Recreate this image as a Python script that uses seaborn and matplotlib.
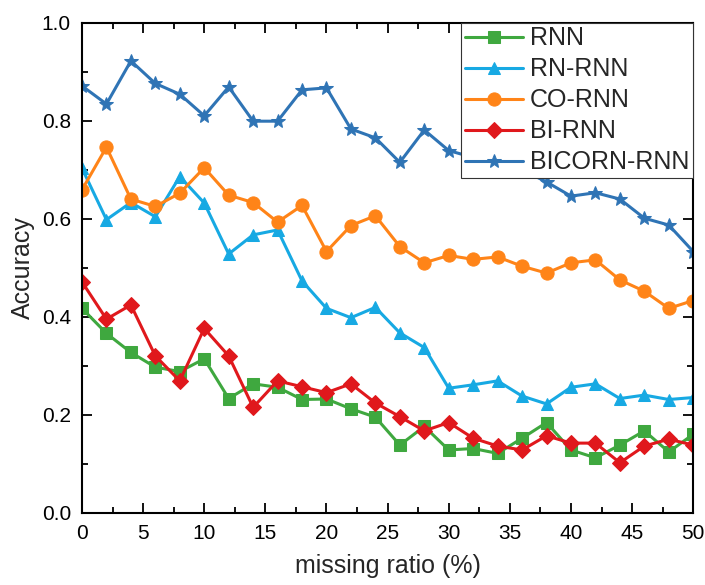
import numpy as np
import pandas as pd
import matplotlib
matplotlib.use("Agg")
import matplotlib.pyplot as plt
import seaborn as sns
from matplotlib.ticker import MultipleLocator

missing_ratio = [0, 2, 4, 6, 8, 10, 12, 14, 16, 18, 20, 22, 24, 26, 28, 30, 32, 34, 36, 38, 40, 42, 44, 46, 48, 50]

rnn = [0.417, 0.366, 0.327, 0.297, 0.288, 0.314, 0.233, 0.263, 0.256, 0.231, 0.232, 0.212, 0.195,
       0.138, 0.176, 0.128, 0.131, 0.121, 0.152, 0.184, 0.128, 0.112, 0.138, 0.167, 0.124, 0.160]
rn_rnn = [0.703, 0.598, 0.633, 0.604, 0.686, 0.632, 0.528, 0.567, 0.577, 0.473, 0.417, 0.398, 0.419,
          0.367, 0.337, 0.254, 0.261, 0.269, 0.238, 0.222, 0.256, 0.263, 0.233, 0.240, 0.231, 0.235]
co_rnn = [0.659, 0.746, 0.640, 0.625, 0.652, 0.704, 0.648, 0.633, 0.593, 0.627, 0.533, 0.586, 0.606,
          0.543, 0.510, 0.525, 0.517, 0.522, 0.503, 0.489, 0.510, 0.516, 0.475, 0.452, 0.417, 0.433]
bi_rnn = [0.471, 0.395, 0.424, 0.320, 0.269, 0.376, 0.320, 0.215, 0.269, 0.257, 0.245, 0.263, 0.224,
          0.196, 0.167, 0.184, 0.152, 0.136, 0.128, 0.157, 0.142, 0.142, 0.102, 0.136, 0.150, 0.138]
bicorn_rnn = [0.871, 0.834, 0.922, 0.876, 0.854, 0.810, 0.869, 0.799, 0.799, 0.863, 0.867, 0.783, 0.765,
              0.715, 0.781, 0.739, 0.725, 0.712, 0.700, 0.675, 0.646, 0.653, 0.640, 0.601, 0.587, 0.533]

series_names = ["RNN", "RN-RNN", "CO-RNN", "BI-RNN", "BICORN-RNN"]
series_values = [rnn, rn_rnn, co_rnn, bi_rnn, bicorn_rnn]

df = pd.DataFrame({
    "missing ratio": np.tile(missing_ratio, len(series_names)),
    "Accuracy": np.concatenate(series_values),
    "model": np.repeat(series_names, len(missing_ratio)),
})

sns.set_theme(style="ticks")
plt.rcParams["font.family"] = ["Liberation Sans", "DejaVu Sans"]

palette = {"RNN": "#3fa83f", "RN-RNN": "#17a9e3", "CO-RNN": "#ff8418",
           "BI-RNN": "#e0181c", "BICORN-RNN": "#2f74b5"}
markers = {"RNN": "s", "RN-RNN": "^", "CO-RNN": "o", "BI-RNN": "D", "BICORN-RNN": "*"}
msizes = {"RNN": 8, "RN-RNN": 9, "CO-RNN": 9.5, "BI-RNN": 8, "BICORN-RNN": 10.5}

fig = plt.figure(figsize=(7.05, 5.85), dpi=100)
ax = fig.add_axes([0.1163, 0.1236, 0.867, 0.8376])

handles = []
for name in series_names:
    sub = df[df["model"] == name]
    sns.lineplot(data=sub, x="missing ratio", y="Accuracy", ax=ax, color=palette[name],
                 marker=markers[name], markersize=msizes[name], markeredgecolor=palette[name],
                 linewidth=2.2, label=name, legend=False)
    handles.append(ax.lines[-1])

ax.set_xlim(0, 50)
ax.set_ylim(0.0, 1.0)
ax.xaxis.set_major_locator(MultipleLocator(5))
ax.xaxis.set_minor_locator(MultipleLocator(2.5))
ax.yaxis.set_major_locator(MultipleLocator(0.2))
ax.yaxis.set_minor_locator(MultipleLocator(0.1))
ax.set_yticks([0.0, 0.2, 0.4, 0.6, 0.8, 1.0])
ax.set_yticklabels(["0.0", "0.2", "0.4", "0.6", "0.8", "1.0"])
ax.tick_params(which="both", direction="in", top=True, right=True, labelsize=15, width=1.3, colors="black")
ax.tick_params(which="major", length=7)
ax.tick_params(which="minor", length=4)
ax.tick_params(axis="x", pad=8)
ax.tick_params(axis="y", pad=8)
for s in ax.spines.values():
    s.set_linewidth(1.5)
    s.set_color("black")

ax.set_xlabel("missing ratio (%)", fontsize=18, labelpad=8)
ax.set_ylabel("Accuracy", fontsize=18, labelpad=5)

leg = ax.legend(handles=handles, labels=series_names, loc="upper right", borderaxespad=0,
                fontsize=18, handlelength=2.3, handletextpad=0.3, labelspacing=0.28,
                frameon=True, fancybox=False, framealpha=1, borderpad=0.15)
leg.get_frame().set_edgecolor("#333333")
leg.get_frame().set_linewidth(0.8)

fig.savefig("out.png", dpi=100)
